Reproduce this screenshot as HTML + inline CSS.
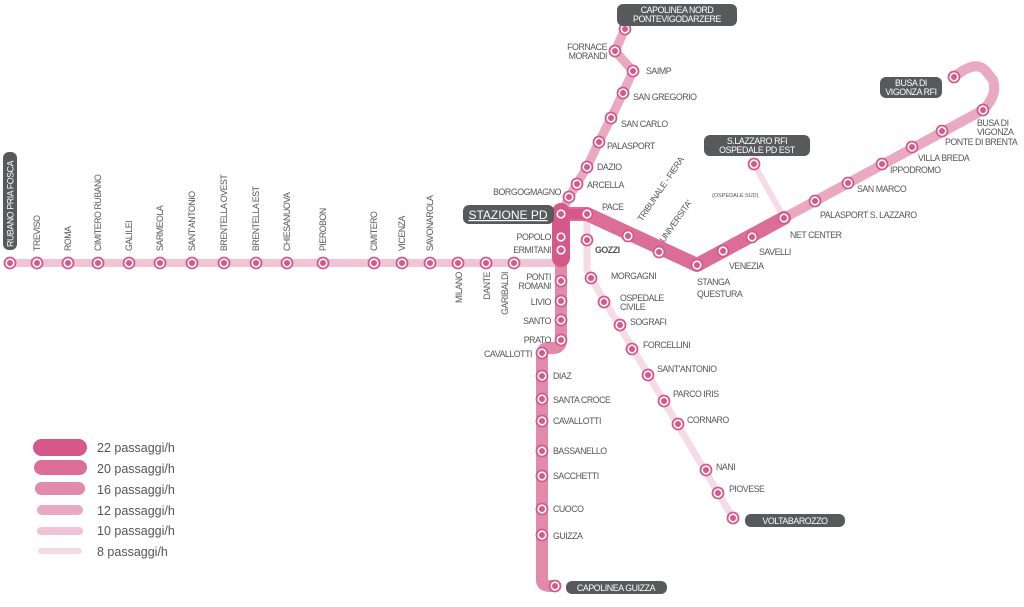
<!DOCTYPE html>
<html><head><meta charset="utf-8"><style>
html,body{margin:0;padding:0;background:#fff;}
svg{display:block;font-family:"Liberation Sans",sans-serif;}
.l{font-size:8.8px;fill:#555;letter-spacing:-0.45px;}
.w{font-size:8.8px;fill:#fff;letter-spacing:-0.4px;}
.g{font-size:12.5px;fill:#555;}
</style></head><body>
<svg width="1024" height="607" viewBox="0 0 1024 607" xmlns="http://www.w3.org/2000/svg">
<defs>
<g id="s"><circle r="6.4" fill="#d6588a"/><circle r="4.6" fill="#fff"/><circle r="3" fill="#d6588a"/></g>
</defs>
<g fill="none" stroke-linecap="round" stroke-linejoin="round">
<path d="M10 263 H560" stroke="#f0c4d4" stroke-width="8"/>
<path d="M561 214 L569 197 L577 184 L587 167 L599 142 L611 118 L623 93 L633 71 L615 51 L625 29" stroke="#e9a9c0" stroke-width="9"/>
<path d="M587 214 V270 L591 278 L733 518" stroke="#f5dbe5" stroke-width="7"/>
<path d="M754 164 L784 218" stroke="#f5dbe5" stroke-width="6"/>
<path d="M784 218 L983 110 Q998 95 993 80 L985 70 Q975 60 954 77" stroke="#e9a9c0" stroke-width="10"/>
<path d="M561 214 H587 L697 265 L784 218" stroke="#dc6d97" stroke-width="14"/>
<path d="M561 263 V340 Q561 348 553 348 L548 348 Q542 348 542 356 V580 Q542 586 550 586 L555 586" stroke="#e28aaa" stroke-width="12"/>
<path d="M561 212 V258" stroke="#d6588a" stroke-width="18"/>
<path d="M561 214 H587" stroke="#d6588a" stroke-width="10"/>
</g>
<g>
<use href="#s" x="10" y="263"/><use href="#s" x="37" y="263"/><use href="#s" x="68" y="263"/><use href="#s" x="98" y="263"/><use href="#s" x="129" y="263"/><use href="#s" x="160" y="263"/><use href="#s" x="192" y="263"/><use href="#s" x="224" y="263"/><use href="#s" x="256" y="263"/><use href="#s" x="287" y="263"/><use href="#s" x="323" y="263"/><use href="#s" x="374" y="263"/><use href="#s" x="402" y="263"/><use href="#s" x="430" y="263"/><use href="#s" x="458" y="263"/><use href="#s" x="486" y="263"/><use href="#s" x="514" y="263"/>
<use href="#s" x="625" y="29"/><use href="#s" x="615" y="51"/><use href="#s" x="633" y="71"/><use href="#s" x="623" y="93"/><use href="#s" x="611" y="118"/><use href="#s" x="599" y="142"/><use href="#s" x="587" y="167"/><use href="#s" x="577" y="184"/><use href="#s" x="569" y="197"/>
<use href="#s" x="561" y="214"/><use href="#s" x="587" y="214"/><use href="#s" x="561" y="237"/><use href="#s" x="561" y="250"/>
<use href="#s" x="561" y="281"/><use href="#s" x="561" y="301"/><use href="#s" x="561" y="320"/><use href="#s" x="561" y="340"/>
<use href="#s" x="542" y="353"/><use href="#s" x="542" y="376"/><use href="#s" x="542" y="399"/><use href="#s" x="542" y="421"/><use href="#s" x="542" y="451"/><use href="#s" x="542" y="476"/><use href="#s" x="542" y="509"/><use href="#s" x="542" y="535"/><use href="#s" x="555" y="586"/>
<use href="#s" x="628" y="236"/><use href="#s" x="659" y="252"/><use href="#s" x="697" y="265"/><use href="#s" x="723" y="251"/><use href="#s" x="752" y="237"/><use href="#s" x="784" y="218"/>
<use href="#s" x="815" y="201"/><use href="#s" x="848" y="183"/><use href="#s" x="882" y="164"/><use href="#s" x="912" y="147"/><use href="#s" x="942" y="131"/><use href="#s" x="983" y="110"/><use href="#s" x="954" y="77"/>
<use href="#s" x="754" y="164"/>
<use href="#s" x="587" y="240"/><use href="#s" x="591" y="278"/><use href="#s" x="604" y="302"/><use href="#s" x="620" y="325"/><use href="#s" x="632" y="349"/><use href="#s" x="648" y="375"/><use href="#s" x="664" y="401"/><use href="#s" x="678" y="424"/><use href="#s" x="706" y="470"/><use href="#s" x="718" y="493"/><use href="#s" x="733" y="518"/>
</g>
<rect x="3" y="152" width="14" height="98" rx="6" fill="#58595b"/>
<text class="w" transform="translate(13.5,247) rotate(-90)">RUBANO PRIA FOSCA</text>
<rect x="463" y="205" width="91" height="19" rx="6" fill="#58595b"/>
<text x="508" y="219" text-anchor="middle" style="font-size:12px;fill:#fff;text-decoration:underline">STAZIONE PD</text>
<rect x="617" y="4" width="120" height="22" rx="6" fill="#58595b"/>
<text class="w" x="677" y="13" text-anchor="middle">CAPOLINEA NORD</text><text class="w" x="677" y="22" text-anchor="middle">PONTEVIGODARZERE</text>
<rect x="880" y="77" width="62" height="21" rx="6" fill="#58595b"/>
<text class="w" x="911" y="86" text-anchor="middle">BUSA DI</text><text class="w" x="911" y="95" text-anchor="middle">VIGONZA RFI</text>
<rect x="704" y="135" width="106" height="21" rx="6" fill="#58595b"/>
<text class="w" x="757" y="144" text-anchor="middle">S.LAZZARO RFI</text><text class="w" x="757" y="153" text-anchor="middle">OSPEDALE PD EST</text>
<rect x="745" y="514" width="100" height="13" rx="6" fill="#58595b"/>
<text class="w" x="795" y="524" text-anchor="middle">VOLTABAROZZO</text>
<rect x="566" y="581" width="101" height="13" rx="6" fill="#58595b"/>
<text class="w" x="616" y="591" text-anchor="middle">CAPOLINEA GUIZZA</text>
<g class="l">
<text transform="translate(40,251) rotate(-90)">TREVISO</text>
<text transform="translate(71,251) rotate(-90)">ROMA</text>
<text transform="translate(101,251) rotate(-90)">CIMITERO RUBANO</text>
<text transform="translate(132,251) rotate(-90)">GALILEI</text>
<text transform="translate(163,251) rotate(-90)">SARMEOLA</text>
<text transform="translate(195,251) rotate(-90)">SANT'ANTONIO</text>
<text transform="translate(227,251) rotate(-90)">BRENTELLA OVEST</text>
<text transform="translate(259,251) rotate(-90)">BRENTELLA EST</text>
<text transform="translate(290,251) rotate(-90)">CHIESANUOVA</text>
<text transform="translate(326,251) rotate(-90)">PIEROBON</text>
<text transform="translate(377,251) rotate(-90)">CIMITERO</text>
<text transform="translate(405,251) rotate(-90)">VICENZA</text>
<text transform="translate(433,251) rotate(-90)">SAVONAROLA</text>
<text transform="translate(462,272) rotate(-90)" text-anchor="end">MILANO</text>
<text transform="translate(490,272) rotate(-90)" text-anchor="end">DANTE</text>
<text transform="translate(508,272) rotate(-90)" text-anchor="end">GARIBALDI</text>
<text x="607" y="50" text-anchor="end">FORNACE</text><text x="607" y="59" text-anchor="end">MORANDI</text>
<text x="646" y="74">SAIMP</text>
<text x="633" y="100">SAN GREGORIO</text>
<text x="621" y="127">SAN CARLO</text>
<text x="607" y="149">PALASPORT</text>
<text x="597" y="170">DAZIO</text>
<text x="587" y="188">ARCELLA</text>
<text x="561" y="195" text-anchor="end">BORGOGMAGNO</text>
<text x="602" y="210">PACE</text>
<text x="551" y="240" text-anchor="end">POPOLO</text>
<text x="551" y="253" text-anchor="end">ERMITANI</text>
<text x="595" y="253" style="font-weight:bold">GOZZI</text>
<text x="551" y="280" text-anchor="end">PONTI</text><text x="551" y="289" text-anchor="end">ROMANI</text>
<text x="551" y="305" text-anchor="end">LIVIO</text>
<text x="551" y="324" text-anchor="end">SANTO</text>
<text x="551" y="343" text-anchor="end">PRATO</text>
<text x="532" y="357" text-anchor="end">CAVALLOTTI</text>
<text x="553" y="379">DIAZ</text>
<text x="553" y="403">SANTA CROCE</text>
<text x="553" y="424">CAVALLOTTI</text>
<text x="553" y="454">BASSANELLO</text>
<text x="553" y="479">SACCHETTI</text>
<text x="553" y="512">CUOCO</text>
<text x="553" y="539">GUIZZA</text>
<text x="611" y="279">MORGAGNI</text>
<text x="620" y="301">OSPEDALE</text><text x="620" y="310">CIVILE</text>
<text x="630" y="325">SOGRAFI</text>
<text x="643" y="348">FORCELLINI</text>
<text x="657" y="372">SANT'ANTONIO</text>
<text x="673" y="397">PARCO IRIS</text>
<text x="687" y="423">CORNARO</text>
<text x="716" y="470">NANI</text>
<text x="729" y="492">PIOVESE</text>
<text x="697" y="285">STANGA</text><text x="697" y="297">QUESTURA</text>
<text x="729" y="269">VENEZIA</text>
<text x="759" y="255">SAVELLI</text>
<text x="790" y="238">NET CENTER</text>
<text x="820" y="218">PALASPORT S. LAZZARO</text>
<text x="857" y="192">SAN MARCO</text>
<text x="890" y="173">IPPODROMO</text>
<text x="918" y="161">VILLA BREDA</text>
<text x="945" y="145">PONTE DI BRENTA</text>
<text x="977" y="126">BUSA DI</text><text x="977" y="135">VIGONZA</text>
<text x="712" y="197" style="font-size:5.5px;letter-spacing:0">(OSPEDALE SUD)</text>
<text transform="translate(642,222) rotate(-56)">TRIBUNALE - FIERA</text>
<text transform="translate(664,243) rotate(-55)">UNIVERSITA'</text>
</g>
<rect x="33" y="439" width="54" height="17" rx="8.5" fill="#d6588a"/>
<rect x="34" y="460" width="53" height="15" rx="7.5" fill="#dc6d97"/>
<rect x="35" y="482" width="50" height="13" rx="6.5" fill="#e28aaa"/>
<rect x="37" y="505" width="46" height="10" rx="5" fill="#e9a9c0"/>
<rect x="37" y="527" width="46" height="8" rx="4" fill="#f0c4d4"/>
<rect x="38" y="548" width="44" height="6" rx="3" fill="#f5dbe5"/>
<text class="g" x="97" y="452">22 passaggi/h</text>
<text class="g" x="97" y="473">20 passaggi/h</text>
<text class="g" x="97" y="494">16 passaggi/h</text>
<text class="g" x="97" y="515">12 passaggi/h</text>
<text class="g" x="97" y="535">10 passaggi/h</text>
<text class="g" x="97" y="556">8 passaggi/h</text>
</svg>
</body></html>
